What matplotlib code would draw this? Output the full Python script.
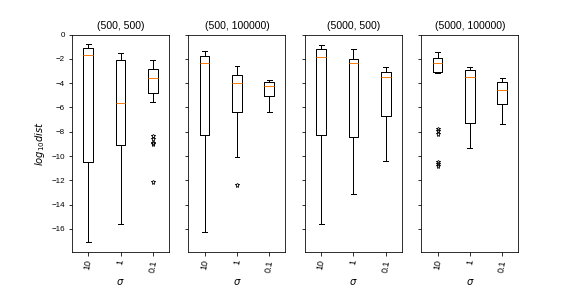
import matplotlib
matplotlib.use("Agg")
import matplotlib.pyplot as plt

plt.rcParams['font.family'] = ['Liberation Sans', 'DejaVu Sans']

titles = ["(500, 500)", "(500, 100000)", "(5000, 500)", "(5000, 100000)"]
sigmas = ["10", "1", "0.1"]

# per panel: values for sigma = 10, 1, 0.1
whislo = [[-17.1, -15.6, -5.55], [-16.25, -10.06, -6.38], [-15.6, -13.14, -10.42], [-3.13, -9.32, -7.37]]
q1 = [[-10.5, -9.1, -4.81], [-8.28, -6.41, -5.06], [-8.28, -8.41, -6.71], [-3.05, -7.29, -5.72]]
med = [[-1.68, -5.66, -3.57], [-2.31, -3.99, -4.23], [-1.84, -2.31, -3.49], [-2.31, -3.49, -4.56]]
q3 = [[-1.13, -2.09, -2.83], [-1.79, -3.35, -3.9], [-1.18, -2.0, -3.08], [-1.92, -2.91, -3.9]]
whishi = [[-0.77, -1.51, -2.12], [-1.35, -2.58, -3.74], [-0.85, -1.18, -2.67], [-1.43, -2.67, -3.57]]
fliers = [
    [[], [], [-8.35, -8.6, -8.9, -9.05, -12.1]],
    [[], [-12.37], []],
    [[], [], []],
    [[-7.75, -7.95, -8.2, -10.45, -10.65, -10.85], [], []],
]

fig, axes = plt.subplots(1, 4, figsize=(8, 4), dpi=72, sharey=True)
fig.subplots_adjust(bottom=0.125)

for i, ax in enumerate(axes):
    stats = []
    for j in range(3):
        stats.append(dict(whislo=whislo[i][j], q1=q1[i][j], med=med[i][j],
                          q3=q3[i][j], whishi=whishi[i][j], fliers=fliers[i][j]))
    ax.bxp(stats, widths=0.3,
           flierprops=dict(marker='*', markerfacecolor='none',
                           markeredgecolor='black', markersize=5, markeredgewidth=0.8),
           medianprops=dict(color='#ff7f0e'))
    ax.set_xticks([1, 2, 3])
    ax.set_xticklabels(sigmas, rotation=80, fontsize=9)
    ax.set_title(titles[i], fontsize=10.5)
    ax.set_xlabel(r'$\sigma$', fontsize=10)
    ax.tick_params(axis='y', labelsize=8)

axes[0].set_ylim(-17.9, 0)
axes[0].set_yticks(range(-16, 1, 2))
axes[0].set_ylabel(r'$log_{10}dist$', fontsize=10)

fig.savefig("out.png")
